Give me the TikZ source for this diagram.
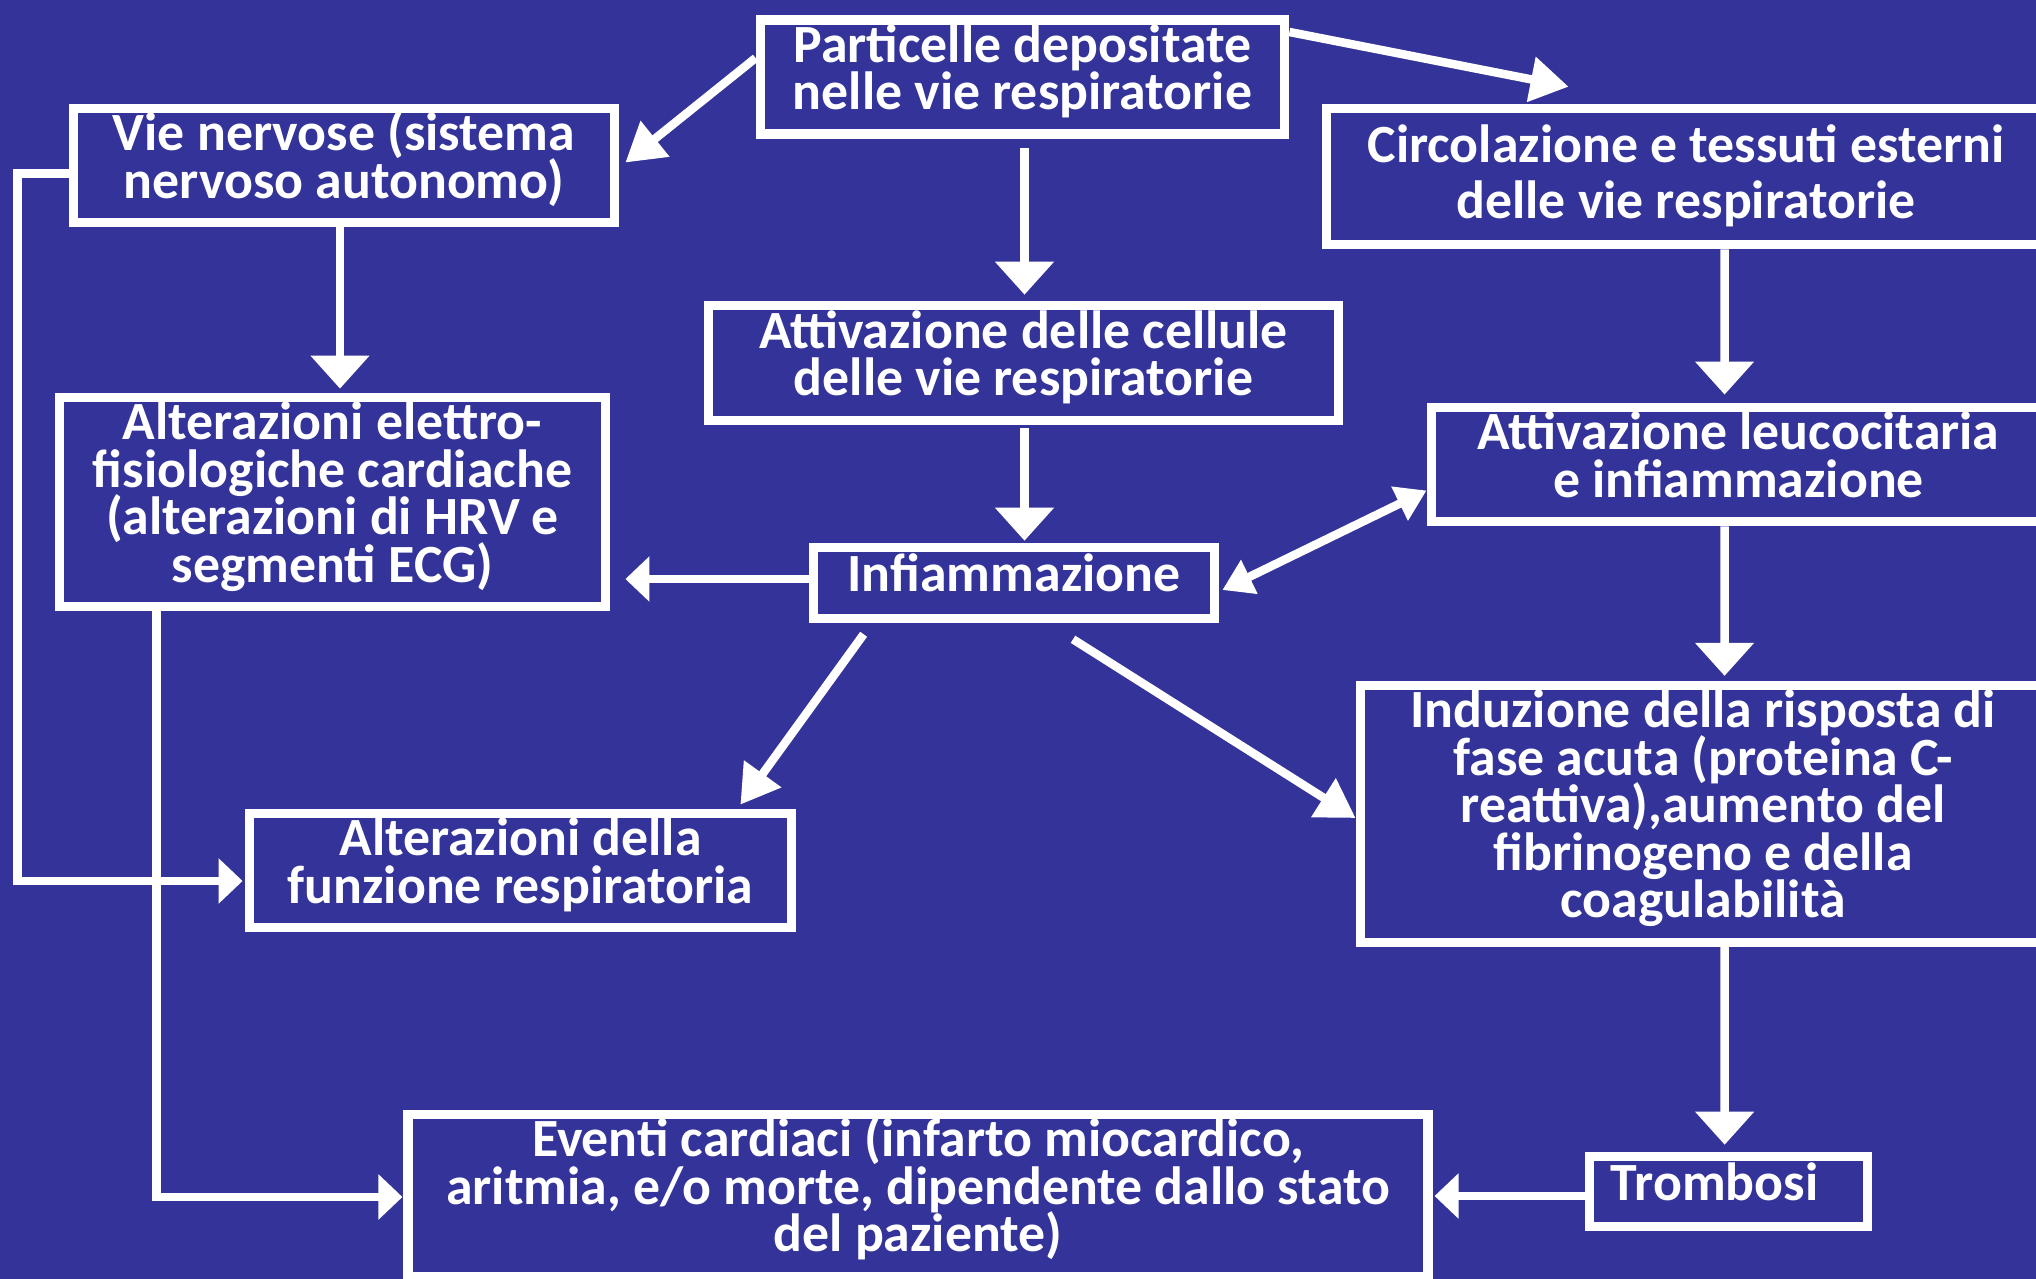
\documentclass[tikz,border=0pt]{standalone}
\usepackage{fontspec}
\setmainfont{Carlito}
\usetikzlibrary{arrows.meta,calc}
\definecolor{bg}{RGB}{51,51,153}
\newcommand\bxfont{\bfseries\fontsize{15.3}{13.5}\selectfont\lineskiplimit=-30pt\relax\lineskip=0pt\relax}
\newcommand\bxtop{\rule{0pt}{12pt}}
\newcommand\bxbot{\rule[-7pt]{0pt}{0pt}}
\tikzset{
  box/.style={draw=white, line width=0.095cm, text=white, align=center,
    font=\bxfont, inner sep=0pt},
  conn/.style={draw=white, line width=0.085cm},
  tipv/.style={-{Triangle[width=0.57cm,length=0.33cm]}},
  tiph/.style={-{Triangle[width=0.44cm,length=0.24cm]}},
  tipd/.style={-{Triangle[width=0.44cm,length=0.38cm]}},
  tipdd/.style={{Triangle[width=0.36cm,length=0.30cm]}-{Triangle[width=0.36cm,length=0.30cm]}},
}
\begin{document}
\begin{tikzpicture}[x=0.01cm,y=-0.01cm]
\useasboundingbox (0,0) rectangle (2036,1279);
\fill[bg] (0,0) rectangle (2036,1279);
\clip (0,0) rectangle (2036,1279);

\node[box, minimum width=5.24cm, minimum height=1.13cm] (part) at (1022.5,77) {\bxtop Particelle depositate\\nelle vie respiratorie\bxbot};
\node[box, minimum width=5.41cm, minimum height=1.14cm] (vie) at (344,165.5) {\bxtop Vie nervose (sistema\\nervoso autonomo)\bxbot};
\node[box, minimum width=7.19cm, minimum height=1.36cm] (circ) at (1686,176.5) {\bxtop Circolazione e tessuti esterni\\[0.09cm]delle vie respiratorie\rule[-4pt]{0pt}{0pt}};
\node[box, minimum width=6.30cm, minimum height=1.15cm] (attc) at (1023.5,363) {\bxtop Attivazione delle cellule\\delle vie respiratorie\bxbot};
\node[box, minimum width=5.46cm, minimum height=2.03cm] (alte) at (332.5,502) {\bxtop Alterazioni elettro-\\fisiologiche cardiache\\(alterazioni di HRV e\\segmenti ECG)\bxbot};
\node[box, minimum width=6.14cm, minimum height=1.14cm] (leuc) at (1738.5,464.5) {\bxtop Attivazione leucocitaria\\e infiammazione\bxbot};
\node[box, minimum width=4.01cm, minimum height=0.71cm] (infi) at (1014,583) {\bxtop Infiammazione\bxbot};
\node[box, minimum width=5.42cm, minimum height=1.14cm] (funz) at (520.5,870.5) {\bxtop Alterazioni della\\funzione respiratoria\bxbot};
\node[box, minimum width=6.85cm, minimum height=2.51cm] (indu) at (1703,814) {\bxtop Induzione della risposta di\\fase acuta (proteina C-\\reattiva),aumento del\\fibrinogeno e della\\coagulabilità\bxbot};
\node[box, minimum width=10.19cm, minimum height=1.56cm] (even) at (918,1195.5) {\bxtop Eventi cardiaci (infarto miocardico,\\aritmia, e/o morte, dipendente dallo stato\\del paziente)\bxbot};
\node[box, minimum width=2.78cm, minimum height=0.70cm] (trom) at (1728.5,1191.5) {\makebox[2.78cm][l]{\hspace{0.215cm}\bxtop Trombosi\bxbot}};

\draw[conn,tipd] ($(part.west)+(0,-19)$) -- ($(vie.east)+(6,-3)$);
\draw[conn,tipd] ($(part.east)+(0,-45)$) -- ($(circ.north west)+(247,-17)$);
\draw[conn,tipv] ($(part.south)+(2,9)$) -- ($(attc.north)+(1,-6)$);
\draw[conn,tipv] ($(attc.south)+(1,3)$) -- ($(infi.north)+(10.5,-2)$);
\draw[conn,tipv] ($(vie.south)+(-4,0)$) -- ($(alte.north)+(7.5,-4)$);
\draw[conn,tiph] ($(infi.west)+(0,-4)$) -- ($(alte.east)+(15,77)$);
\draw[conn,tipdd] ($(infi.east)+(3,7)$) -- ($(leuc.west)+(0,26)$);
\draw[conn,tipd] ($(infi.south west)+(55,11)$) -- ($(funz.north east)+(-56,-4)$);
\draw[conn,tipd] ($(infi.south)+(59,16)$) -- ($(indu.west)+(0,4)$);
\draw[conn,tipv] ($(circ.south west)+(403,0)$) -- ($(leuc.north west)+(298,-8)$);
\draw[conn,tipv] ($(leuc.south west)+(298,0)$) -- ($(indu.north west)+(369,-5)$);
\draw[conn,tipv] ($(indu.south west)+(369,0)$) -- ($(trom.north west)+(140,-7)$);
\draw[conn,tiph] ($(trom.west)+(0,4.5)$) -- ($(even.east)+(2,0.5)$);
\draw[conn,tiph] ($(vie.west)+(0,8)$) -- ($(vie.west)+(-51,8)$) |- ($(funz.west)+(-2,10.5)$);
\draw[conn,tiph] ($(alte.south west)+(102,0)$) |- ($(even.west)+(-1,1.5)$);
\end{tikzpicture}
\end{document}
